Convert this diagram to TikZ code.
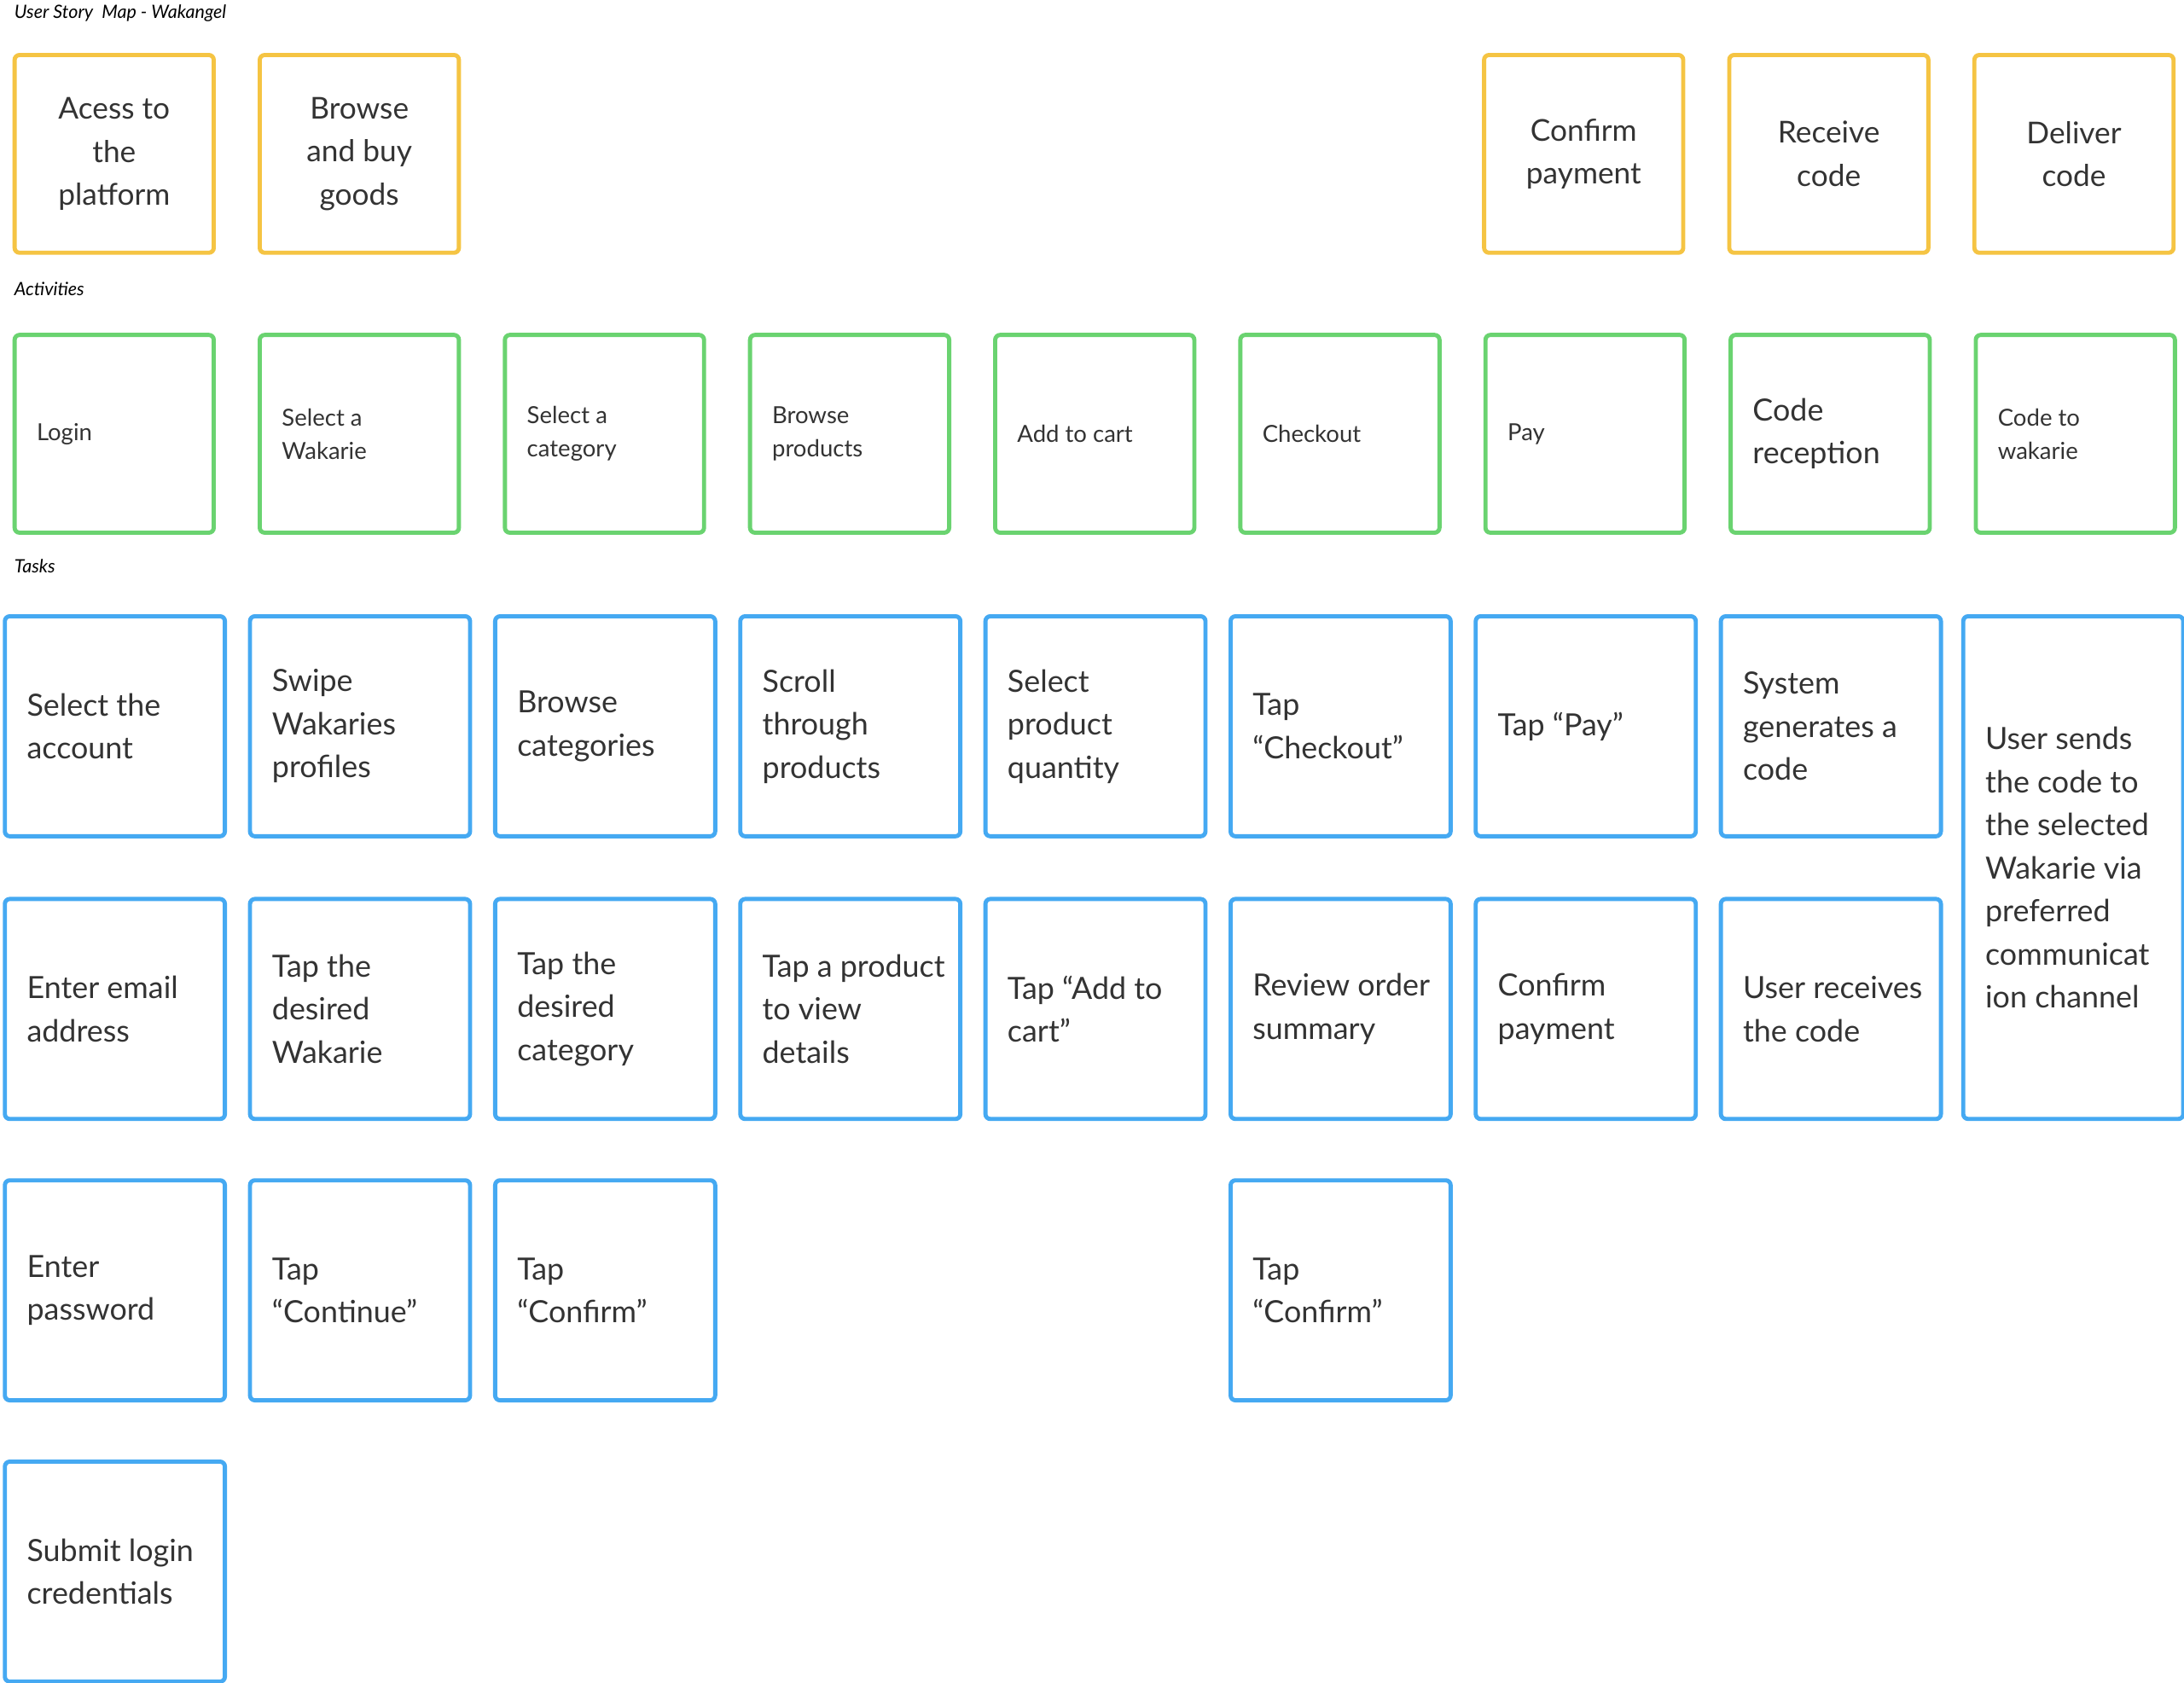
\documentclass[tikz,border=0pt]{standalone}
\usepackage{fontspec}
\setmainfont{Lato}
\definecolor{epicc}{HTML}{F5C443}
\definecolor{actc}{HTML}{6AD370}
\definecolor{taskc}{HTML}{45A9F2}
\tikzset{
  card/.style={draw, line width=1.7pt, rounded corners=2pt, anchor=north west, fill=white},
  epic/.style={card, draw=epicc, minimum width=2.86cm, minimum height=2.84cm, align=center, font=\fontsize{12.3}{17.6}\selectfont, text=black!80},
  activity/.style={card, draw=actc, minimum width=2.86cm, minimum height=2.84cm},
  task/.style={card, draw=taskc, minimum width=3.16cm, minimum height=3.16cm},
  cardtext/.style={anchor=west, xshift=0.34cm, inner sep=0pt, align=left, text=black!80},
  acttext/.style={cardtext, font=\fontsize{9.6}{13.6}\selectfont},
  tasktext/.style={cardtext, font=\fontsize{12.5}{17.6}\selectfont},
  lbl/.style={anchor=north west, inner sep=0pt, font=\itshape\fontsize{7.5}{9}\selectfont}
}
\begin{document}
\begin{tikzpicture}[x=0.02cm,y=-0.02cm]
\useasboundingbox[fill=white] (0,0) rectangle (1568,1208);
% labels
\node[lbl] (title) at (10,3) {User Story\ \ Map - Wakangel};
\node[lbl] (actlbl) at (10,202) {Activities};
\node[lbl] (tasklbl) at (10,401) {Tasks};
% epics
\node[epic] (e1) at (9,38) {Acess to\\the\\platform};
\node[epic] (e2) at (185,38) {Browse\\and buy\\goods};
\node[epic] (e3) at (1064,38) {Confirm\\payment};
\node[epic] (e4) at (1240,38) {Receive\\code};
\node[epic] (e5) at (1416,38) {Deliver\\code};
% activities
\foreach \i/\t in {0/Login, 1/{Select a\\Wakarie}, 2/{Select a\\category}, 3/{Browse\\products},
  4/Add to cart, 5/Checkout, 6/Pay, 8/{Code to\\wakarie}}
  \node[activity, label={[acttext]west:{\t}}] (a\i) at (9+176*\i,239) {};
\node[activity, label={[tasktext]west:{Code\\reception}}] (a7) at (1241,239) {};
% tasks
\foreach \i/\t in {0/{Select the\\account}, 1/{Swipe\\Wakaries\\profiles}, 2/{Browse\\categories},
  3/{Scroll\\through\\products}, 4/{Select\\product\\quantity}, 5/{Tap\\“Checkout”},
  6/{Tap “Pay”}, 7/{System\\generates a\\code}}
  \node[task, label={[tasktext]west:{\t}}] (t1\i) at (2+176*\i,441) {};
\foreach \i/\t in {0/{Enter email\\address}, 1/{Tap the\\desired\\Wakarie}, 2/{Tap the\\desired\\category},
  3/{Tap a product\\to view\\details}, 4/{Tap “Add to\\cart”}, 5/{Review order\\summary},
  6/{Confirm\\payment}, 7/{User receives\\the code}}
  \node[task, label={[tasktext]west:{\t}}] (t2\i) at (2+176*\i,644) {};
\foreach \i/\t in {0/{Enter\\password}, 1/{Tap\\“Continue”}, 2/{Tap\\“Confirm”}, 5/{Tap\\“Confirm”}}
  \node[task, label={[tasktext]west:{\t}}] (t3\i) at (2+176*\i,846) {};
\node[task, label={[tasktext]west:{Submit login\\credentials}}] (t40) at (2,1048) {};
\node[task, minimum height=7.22cm, label={[tasktext]west:{User sends\\the code to\\the selected\\Wakarie via\\preferred\\communicat\\ion channel}}] (t18) at (1408,441) {};
\end{tikzpicture}
\end{document}
